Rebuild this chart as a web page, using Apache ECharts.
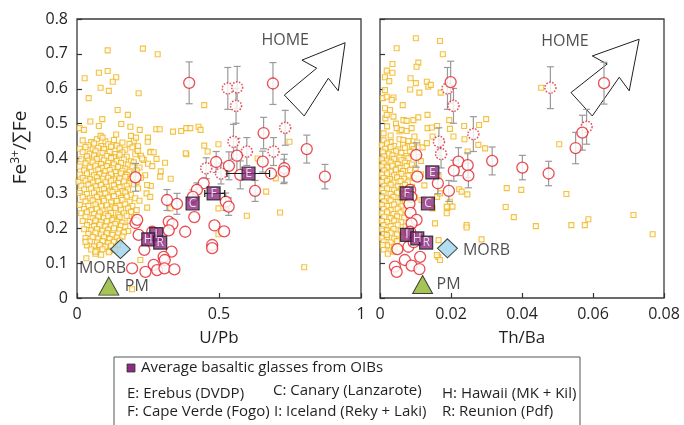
<!DOCTYPE html>
<html><head><meta charset="utf-8">
<script src="https://cdn.jsdelivr.net/npm/echarts@6/dist/echarts.min.js"></script>
<style>html,body{margin:0;padding:0;background:#fff}#c{width:684px;height:425px}</style>
</head><body><div id="c"></div>
<script>
const FONT = '"Open Sans", "Noto Sans", sans-serif';
const TXT = '#231f20';

// Tick labels
const uPbTicks = ['0', '0.5', '1'];
const thBaTicks = ['0', '0.02', '0.04', '0.06', '0.08'];
const yTicks = ['0', '0.1', '0.2', '0.3', '0.4', '0.5', '0.6', '0.7', '0.8'];

// Yellow squares: glasses, U/Pb vs Fe3+/SumFe
const glassUPb = [
[0.02,0.452],[0.05,0.447],[0.07,0.455],[0.10,0.449],[0.13,0.453],[0.16,0.446],[0.20,0.451],
[0.04,0.438],[0.06,0.443],[0.085,0.436],[0.11,0.441],[0.14,0.437],[0.185,0.442],[0.215,0.435],
[0.01,0.428],[0.03,0.433],[0.055,0.426],[0.075,0.431],[0.095,0.427],[0.12,0.434],[0.15,0.429],[0.17,0.425],[0.195,0.432],
[0.02,0.418],[0.045,0.414],[0.065,0.421],[0.09,0.416],[0.115,0.419],[0.135,0.413],[0.16,0.417],[0.205,0.412],[0.26,0.419],
[0.035,0.406],[0.06,0.409],[0.08,0.403],[0.105,0.407],[0.13,0.404],[0.15,0.411],[0.175,0.405],[0.225,0.408],
[0.015,0.398],[0.04,0.394],[0.07,0.399],[0.095,0.395],[0.12,0.401],[0.14,0.393],[0.165,0.397],[0.19,0.392],[0.235,0.396],[0.28,0.399],
[0.03,0.386],[0.055,0.389],[0.085,0.384],[0.11,0.388],[0.13,0.383],[0.155,0.387],[0.18,0.382],[0.2,0.389],[0.25,0.385],[0.31,0.388],
[0.01,0.377],[0.045,0.374],[0.065,0.379],[0.09,0.373],[0.105,0.378],[0.125,0.372],[0.145,0.376],[0.17,0.371],[0.195,0.377],[0.22,0.374],[0.265,0.378],
[0.025,0.366],[0.05,0.362],[0.075,0.368],[0.1,0.364],[0.115,0.367],[0.135,0.361],[0.16,0.365],[0.185,0.362],[0.21,0.366],[0.295,0.363],
[0.01,0.354],[0.035,0.357],[0.06,0.352],[0.08,0.356],[0.095,0.351],[0.12,0.355],[0.14,0.35],[0.155,0.357],[0.175,0.353],[0.2,0.356],[0.24,0.352],
[0.02,0.344],[0.045,0.341],[0.07,0.346],[0.09,0.342],[0.11,0.345],[0.13,0.34],[0.15,0.343],[0.17,0.347],[0.19,0.341],[0.225,0.345],[0.33,0.342],
[0.005,0.333],[0.03,0.336],[0.055,0.331],[0.075,0.335],[0.1,0.332],[0.12,0.336],[0.145,0.33],[0.165,0.334],[0.185,0.329],[0.21,0.333],
[0.015,0.322],[0.04,0.325],[0.065,0.32],[0.085,0.324],[0.105,0.319],[0.13,0.323],[0.15,0.318],[0.175,0.322],[0.2,0.326],[0.26,0.321],
[0.025,0.311],[0.05,0.314],[0.07,0.309],[0.095,0.313],[0.115,0.308],[0.135,0.312],[0.16,0.307],[0.18,0.311],[0.215,0.314],
[0.01,0.301],[0.035,0.298],[0.06,0.302],[0.08,0.297],[0.1,0.3],[0.125,0.304],[0.145,0.299],[0.17,0.303],[0.19,0.296],[0.245,0.3],
[0.02,0.289],[0.045,0.286],[0.07,0.29],[0.09,0.285],[0.11,0.288],[0.13,0.292],[0.155,0.287],[0.175,0.291],[0.205,0.286],
[0.03,0.277],[0.055,0.28],[0.075,0.275],[0.095,0.279],[0.12,0.274],[0.14,0.278],[0.16,0.281],[0.185,0.276],[0.22,0.279],
[0.01,0.267],[0.04,0.264],[0.065,0.268],[0.085,0.263],[0.105,0.266],[0.125,0.262],[0.15,0.265],[0.17,0.269],[0.195,0.264],
[0.025,0.255],[0.05,0.252],[0.07,0.256],[0.09,0.251],[0.115,0.254],[0.135,0.258],[0.155,0.253],[0.18,0.257],[0.21,0.252],
[0.015,0.243],[0.035,0.246],[0.06,0.241],[0.08,0.245],[0.1,0.24],[0.12,0.244],[0.145,0.239],[0.165,0.243],[0.19,0.247],
[0.03,0.233],[0.055,0.229],[0.075,0.234],[0.095,0.23],[0.11,0.235],[0.13,0.228],[0.15,0.232],[0.175,0.236],[0.2,0.231],
[0.02,0.221],[0.045,0.218],[0.065,0.222],[0.085,0.217],[0.105,0.22],[0.125,0.224],[0.14,0.219],[0.16,0.216],[0.185,0.221],
[0.035,0.209],[0.06,0.206],[0.08,0.21],[0.1,0.205],[0.12,0.208],[0.135,0.212],[0.155,0.207],[0.17,0.204],
[0.025,0.197],[0.05,0.194],[0.07,0.198],[0.09,0.193],[0.11,0.196],[0.13,0.2],[0.15,0.195],[0.18,0.192],
[0.04,0.184],[0.065,0.187],[0.085,0.182],[0.105,0.186],[0.125,0.181],[0.145,0.185],[0.165,0.188],
[0.03,0.172],[0.055,0.175],[0.075,0.17],[0.095,0.174],[0.115,0.169],[0.14,0.173],[0.16,0.176],
[0.045,0.162],[0.07,0.159],[0.09,0.163],[0.11,0.158],[0.13,0.161],[0.15,0.164],
[0.035,0.151],[0.06,0.148],[0.08,0.152],[0.1,0.147],[0.12,0.15],[0.145,0.153],
[0.05,0.139],[0.07,0.136],[0.09,0.14],[0.115,0.135],[0.135,0.138],
[0.065,0.127],[0.085,0.124],
[0.108,0.71],[0.232,0.715],[0.284,0.699],[0.027,0.63],[0.077,0.646],[0.108,0.651],[0.138,0.633],[0.126,0.62],
[0.083,0.603],[0.112,0.594],[0.041,0.573],[0.217,0.587],[0.448,0.553],[0.143,0.539],[0.179,0.525],[0.089,0.513],
[0.047,0.506],[0.009,0.487],[0.024,0.482],[0.077,0.493],[0.156,0.499],[0.188,0.491],[0.221,0.482],[0.279,0.484],
[0.291,0.484],[0.338,0.477],[0.367,0.479],[0.385,0.487],[0.399,0.487],[0.428,0.491],[0.435,0.482],[0.498,0.441],
[0.448,0.437],[0.385,0.412],[0.748,0.448],[0.636,0.40],[0.70,0.343],[0.666,0.305],[0.715,0.245],[0.598,0.236],
[0.80,0.088],[0.498,0.257],[0.498,0.183],[0.329,0.257],[0.083,0.465],[0.09,0.46],[0.138,0.469],[0.19,0.465],
[0.208,0.46],[0.25,0.46],[0.249,0.448],[0.214,0.422],[0.258,0.418],[0.27,0.418],[0.383,0.415],[0.46,0.42],
[0.03,0.161],[0.065,0.133],[0.223,0.109],[0.194,0.025],[0.112,0.131],[0.033,0.114],
[0.258,0.29],[0.247,0.259],[0.293,0.348],[0.229,0.40],[0.247,0.324]
];

// Yellow squares: glasses, Th/Ba vs Fe3+/SumFe
const glassThBa = [
[0.001,0.452],[0.003,0.447],[0.0055,0.455],[0.008,0.449],[0.0105,0.446],
[0.0005,0.438],[0.002,0.443],[0.004,0.436],[0.0065,0.441],[0.009,0.437],
[0.0015,0.428],[0.003,0.433],[0.005,0.426],[0.007,0.431],[0.0095,0.427],[0.012,0.432],
[0.0008,0.418],[0.0025,0.414],[0.0045,0.421],[0.006,0.416],[0.0085,0.419],
[0.0012,0.406],[0.0035,0.409],[0.0055,0.403],[0.0075,0.407],[0.011,0.404],
[0.0005,0.398],[0.002,0.394],[0.004,0.399],[0.006,0.395],[0.008,0.401],[0.0115,0.393],
[0.001,0.386],[0.003,0.389],[0.005,0.384],[0.007,0.388],[0.009,0.383],
[0.0005,0.377],[0.002,0.374],[0.0035,0.379],[0.0055,0.373],[0.0075,0.378],[0.01,0.372],
[0.0012,0.366],[0.003,0.362],[0.0045,0.368],[0.0065,0.364],[0.0085,0.367],
[0.0005,0.354],[0.002,0.357],[0.004,0.352],[0.006,0.356],[0.008,0.351],[0.0115,0.355],
[0.001,0.344],[0.0028,0.341],[0.0048,0.346],[0.0068,0.342],[0.0095,0.345],
[0.0005,0.333],[0.002,0.336],[0.0038,0.331],[0.0058,0.335],[0.0078,0.332],
[0.0012,0.322],[0.003,0.325],[0.005,0.32],[0.007,0.324],[0.009,0.319],[0.0125,0.323],
[0.0005,0.311],[0.002,0.314],[0.004,0.309],[0.006,0.313],[0.0082,0.308],
[0.001,0.301],[0.003,0.298],[0.0048,0.302],[0.0068,0.297],
[0.0005,0.289],[0.002,0.286],[0.0038,0.29],[0.0058,0.285],[0.0098,0.288],
[0.0012,0.277],[0.003,0.28],[0.005,0.275],[0.007,0.279],
[0.0005,0.267],[0.002,0.264],[0.004,0.268],[0.006,0.263],[0.0085,0.266],
[0.001,0.255],[0.003,0.252],[0.005,0.256],[0.0068,0.251],
[0.0005,0.243],[0.002,0.246],[0.0038,0.241],[0.0058,0.245],[0.0078,0.24],
[0.0012,0.233],[0.003,0.229],[0.0048,0.234],[0.0068,0.23],
[0.0005,0.221],[0.002,0.218],[0.004,0.222],[0.006,0.217],
[0.001,0.209],[0.003,0.206],[0.005,0.21],[0.0072,0.205],
[0.0005,0.197],[0.002,0.194],[0.0038,0.198],[0.0058,0.193],
[0.0012,0.184],[0.003,0.187],[0.0048,0.182],
[0.0005,0.172],[0.002,0.175],[0.004,0.17],[0.0062,0.174],
[0.001,0.162],[0.003,0.159],[0.0048,0.163],
[0.002,0.151],[0.004,0.147],[0.001,0.139],[0.003,0.136],[0.0055,0.141],[0.0022,0.127],
[0.001,0.472],[0.003,0.466],[0.0055,0.478],[0.002,0.492],[0.0045,0.5],[0.0015,0.515],
[0.0101,0.745],[0.0169,0.737],[0.0047,0.716],[0.0177,0.699],[0.0035,0.671],[0.0108,0.675],[0.0103,0.663],[0.0019,0.652],
[0.0035,0.646],[0.0014,0.633],[0.0026,0.622],[0.0086,0.63],[0.0101,0.616],[0.0132,0.62],[0.0136,0.606],[0.0143,0.611],
[0.0085,0.598],[0.0111,0.589],[0.0171,0.589],[0.0014,0.596],[0.0008,0.573],[0.0019,0.577],[0.0038,0.575],[0.0033,0.568],
[0.0064,0.553],[0.0014,0.544],[0.0028,0.539],[0.0038,0.52],[0.0019,0.525],[0.0066,0.51],[0.0075,0.508],[0.0094,0.51],
[0.0108,0.518],[0.0134,0.525],[0.0195,0.51],[0.0237,0.493],[0.0279,0.496],[0.0299,0.513],[0.0134,0.487],[0.0146,0.489],
[0.0161,0.493],[0.0197,0.485],[0.0207,0.463],[0.0148,0.463],[0.0047,0.487],[0.0061,0.482],[0.0075,0.479],[0.0089,0.487],
[0.0097,0.463],[0.0066,0.453],[0.008,0.45],[0.0132,0.444],[0.0238,0.455],[0.0277,0.439],[0.0296,0.429],[0.0247,0.42],
[0.0505,0.441],[0.0454,0.603],[0.0357,0.315],[0.0398,0.31],[0.0525,0.298],[0.0354,0.261],[0.0377,0.232],[0.0439,0.206],
[0.0244,0.209],[0.0244,0.202],[0.0286,0.168],[0.0539,0.209],[0.0577,0.209],[0.0587,0.226],[0.0714,0.238],[0.0768,0.183],
[0.0223,0.312],[0.0246,0.297],[0.0197,0.276],[0.019,0.259],[0.0188,0.243],[0.0161,0.29],[0.0169,0.30],[0.0148,0.257],
[0.0165,0.166],[0.0164,0.118],[0.0165,0.348],[0.0155,0.214],[0.016,0.123],[0.0169,0.109],[0.0117,0.281],[0.0188,0.262],
[0.0204,0.262],[0.023,0.305],[0.0008,0.152],[0.0019,0.181],[0.0038,0.133]
];

// Red circles (melt inclusions): [x, Fe3+/SumFe, error]
const meltUPb = [
[0.395,0.617,0.06],[0.69,0.615,0.06],[0.657,0.473,0.045],[0.809,0.427,0.04],[0.873,0.348,0.035],
[0.73,0.372,0.04],[0.728,0.363,0.035],[0.683,0.357,0],[0.654,0.391,0.03],[0.627,0.307,0.03],
[0.563,0.408,0.05],[0.575,0.353,0.04],[0.535,0.379,0.04],[0.49,0.39,0.03],[0.446,0.329,0],
[0.422,0.31,0.02],[0.408,0.29,0.02],[0.413,0.232,0],[0.524,0.276,0.025],[0.534,0.262,0.025],
[0.484,0.208,0],[0.518,0.191,0],[0.476,0.152,0],[0.476,0.143,0],[0.352,0.27,0.03],[0.317,0.281,0.03],
[0.381,0.19,0],[0.323,0.219,0],[0.336,0.212,0],[0.323,0.194,0],[0.333,0.133,0],[0.305,0.118,0],[0.309,0.109,0],
[0.27,0.095,0],[0.241,0.075,0],[0.282,0.08,0],[0.308,0.085,0],[0.343,0.082,0],[0.194,0.085,0],[0.237,0.138,0],
[0.217,0.181,0],[0.206,0.215,0],[0.212,0.224,0],[0.206,0.346,0.04],[0.265,0.19,0]
];
const meltUPbDotted = [
[0.531,0.601,0.06],[0.564,0.604,0.06],[0.56,0.551,0.05],[0.551,0.448,0.05],[0.598,0.42,0.04],
[0.733,0.488,0.05],[0.692,0.42,0.04],[0.455,0.372,0.03],[0.507,0.357,0.03]
];
const meltThBa = [
[0.0199,0.619,0.06],[0.0631,0.616,0.06],[0.057,0.474,0.05],[0.0551,0.43,0.045],[0.0316,0.393,0.04],
[0.0401,0.374,0.035],[0.0475,0.357,0.035],[0.0221,0.391,0.04],[0.0247,0.381,0.035],[0.0249,0.351,0.035],
[0.0208,0.365,0.03],[0.0102,0.41,0.035],[0.0105,0.348,0],[0.0163,0.329,0.03],[0.0194,0.307,0.03],
[0.0085,0.31,0],[0.0088,0.29,0],[0.0083,0.27,0],[0.0086,0.244,0],[0.0103,0.224,0],[0.0089,0.214,0],
[0.0085,0.19,0],[0.008,0.147,0],[0.0049,0.14,0],[0.007,0.109,0],[0.0113,0.118,0],[0.0089,0.093,0],
[0.0111,0.083,0],[0.0042,0.09,0],[0.0047,0.075,0],[0.0095,0.16,0]
];
const meltThBaDotted = [
[0.019,0.601,0.06],[0.0207,0.551,0.05],[0.0263,0.47,0.05],[0.0166,0.448,0.04],[0.0172,0.413,0.04],
[0.048,0.603,0.06],[0.0582,0.491,0.05]
];

// Average basaltic glasses from OIBs
const oibNames = ['E', 'F', 'C', 'I', 'H', 'R'];
const oibUPb = [[0.604,0.357],[0.481,0.30],[0.407,0.271],[0.279,0.183],[0.251,0.168],[0.293,0.159]];
const oibUPbRange = [[0.528,0.678],[0.45,0.52]]; // E, F horizontal error
const oibThBa = [[0.01475,0.36],[0.0075,0.30],[0.0135,0.271],[0.0076,0.181],[0.0105,0.171],[0.013,0.159]];

// Reference reservoirs
const morbUPb = [0.153, 0.14];
const morbThBa = [0.019, 0.1425];
const pmUPb = [0.112, 0.034];
const pmThBa = [0.012, 0.0387];

// HOME arrows (outline vertices, data units) and label positions
const arrowUPb = [[0.944,0.732],[0.792,0.682],[0.844,0.659],[0.730,0.582],[0.80,0.522],[0.885,0.63],[0.92,0.594]];
const arrowThBa = [[0.0730,0.742],[0.0598,0.694],[0.0640,0.671],[0.0538,0.589],[0.0598,0.522],[0.0674,0.633],[0.0702,0.594]];
const homeUPb = [0.733, 0.738];
const homeThBa = [0.0521, 0.735];

// Legend text lines
const legendTitle = 'Average basaltic glasses from OIBs';
const legendRow1 = ['E: Erebus (DVDP)', 'C: Canary (Lanzarote)', 'H: Hawaii (MK + Kil)'];
const legendRow2 = ['F: Cape Verde (Fogo)', 'I: Iceland (Reky + Laki)', 'R: Reunion (Pdf)'];

const chart = echarts.init(document.getElementById('c'), null, {renderer: 'canvas'});

const axisLabelStyle = {color: TXT, fontSize: 16, fontFamily: FONT};

function yAx(gi, showLabels) {
  return {
    type: 'value', gridIndex: gi, min: 0, max: 0.8, interval: 0.1,
    axisLine: {show: false}, splitLine: {show: false},
    axisTick: {show: true, inside: true, length: 5, lineStyle: {color: '#333', width: 1.2}},
    axisLabel: Object.assign({show: showLabels, margin: 9,
      formatter: (v) => yTicks[Math.round(v * 10)]}, axisLabelStyle),
    name: showLabels ? 'Fe{sup|3+}/∑Fe' : '',
    nameLocation: 'middle', nameGap: 45,
    nameTextStyle: {color: TXT, fontSize: 19, fontFamily: FONT, padding: [0, 0, 0, 22],
      rich: {sup: {fontSize: 12, color: TXT, fontFamily: FONT, verticalAlign: 'top', padding: [0, 0, 10, 0]}}}
  };
}

function errSeries(data, xi, color) {
  return {
    type: 'custom', xAxisIndex: xi, yAxisIndex: xi, z: 3, silent: true,
    data: data.filter(d => d[2] > 0), encode: {x: 0, y: 1},
    renderItem: (p, api) => {
      const x = api.value(0), y = api.value(1), e = api.value(2);
      const t = api.coord([x, y + e]), b = api.coord([x, y - e]);
      const cw = 3.5, st = {stroke: color, lineWidth: 1.2};
      return {type: 'group', children: [
        {type: 'line', shape: {x1: t[0], y1: t[1], x2: b[0], y2: b[1]}, style: st},
        {type: 'line', shape: {x1: t[0] - cw, y1: t[1], x2: t[0] + cw, y2: t[1]}, style: st},
        {type: 'line', shape: {x1: b[0] - cw, y1: b[1], x2: b[0] + cw, y2: b[1]}, style: st}
      ]};
    }
  };
}

function glassSeries(data, i) {
  return {type: 'scatter', xAxisIndex: i, yAxisIndex: i, data: data, symbol: 'rect', symbolSize: 5, z: 2, silent: true,
    itemStyle: {color: '#fffbe8', borderColor: '#F0B21A', borderWidth: 1.1}};
}
function meltSeries(data, i, dotted) {
  return {type: 'scatter', xAxisIndex: i, yAxisIndex: i, data: data.map(d => [d[0], d[1]]), symbol: 'circle', symbolSize: 11, z: 4, silent: true,
    itemStyle: {color: '#ffffff', borderColor: '#E3222A', borderWidth: dotted ? 1.5 : 1.3, borderType: dotted ? 'dotted' : 'solid'}};
}
function oibSeries(data, i) {
  return {type: 'scatter', xAxisIndex: i, yAxisIndex: i, z: 7, silent: true,
    data: data.map((d, k) => ({name: oibNames[k], value: d})),
    symbol: 'rect', symbolSize: 13,
    itemStyle: {color: '#8B2C80', borderColor: '#1a1a1a', borderWidth: 1.2},
    label: {show: true, position: 'inside', formatter: '{b}', color: '#fff', fontSize: 12, fontFamily: FONT}};
}
function pointLabel(pt, i, sym, size, color, text, offset) {
  return {type: 'scatter', xAxisIndex: i, yAxisIndex: i, z: 8, silent: true,
    data: [pt], symbol: sym, symbolSize: size,
    itemStyle: {color: color, borderColor: '#1a1a1a', borderWidth: 1},
    label: {show: true, position: 'inside', offset: offset, formatter: text, color: TXT, fontSize: 16, fontFamily: FONT}};
}
function homeLabel(pt, i) {
  return {type: 'scatter', xAxisIndex: i, yAxisIndex: i, z: 8, silent: true,
    data: [pt], symbolSize: 1, itemStyle: {color: 'rgba(0,0,0,0)'},
    label: {show: true, position: 'inside', formatter: 'HOME', color: TXT, fontSize: 16, fontFamily: FONT}};
}
function arrowSeries(pts, i) {
  return {type: 'custom', xAxisIndex: i, yAxisIndex: i, z: 3, silent: true, data: [[pts[0][0], pts[0][1]]],
    renderItem: (p, api) => ({type: 'polygon', shape: {points: pts.map(q => api.coord(q))},
      style: {fill: '#fff', stroke: '#231f20', lineWidth: 1}})};
}
function legendText(text, x, y) {
  return {type: 'text', x: x, y: y, style: {text: text, fill: TXT, font: '15px ' + FONT, verticalAlign: 'middle'}};
}

const option = {
  backgroundColor: '#fff',
  animation: false,
  textStyle: {fontFamily: FONT},
  grid: [
    {left: 77, top: 19, width: 284, height: 279, show: true, borderColor: '#3a3a3a', borderWidth: 1.3, backgroundColor: 'transparent'},
    {left: 380, top: 19, width: 284, height: 279, show: true, borderColor: '#3a3a3a', borderWidth: 1.3, backgroundColor: 'transparent'}
  ],
  xAxis: [
    {type: 'value', gridIndex: 0, min: 0, max: 1, interval: 0.5,
     axisLine: {show: false}, splitLine: {show: false},
     axisTick: {show: true, inside: true, length: 5, lineStyle: {color: '#333', width: 1.2}},
     axisLabel: Object.assign({margin: 8, formatter: (v) => uPbTicks[Math.round(v * 2)]}, axisLabelStyle),
     name: 'U/Pb', nameLocation: 'middle', nameGap: 32,
     nameTextStyle: {color: TXT, fontSize: 17, fontFamily: FONT}},
    {type: 'value', gridIndex: 1, min: 0, max: 0.08, interval: 0.02,
     axisLine: {show: false}, splitLine: {show: false},
     axisTick: {show: true, inside: true, length: 5, lineStyle: {color: '#333', width: 1.2}},
     axisLabel: Object.assign({margin: 8, formatter: (v) => thBaTicks[Math.round(v * 50)]}, axisLabelStyle),
     name: 'Th/Ba', nameLocation: 'middle', nameGap: 32,
     nameTextStyle: {color: TXT, fontSize: 17, fontFamily: FONT}}
  ],
  yAxis: [yAx(0, true), yAx(1, false)],
  series: [
    glassSeries(glassUPb, 0),
    glassSeries(glassThBa, 1),
    arrowSeries(arrowUPb, 0),
    arrowSeries(arrowThBa, 1),
    errSeries(meltUPb, 0, '#9a9a9a'),
    errSeries(meltUPbDotted, 0, '#9a9a9a'),
    errSeries(meltThBa, 1, '#9a9a9a'),
    errSeries(meltThBaDotted, 1, '#9a9a9a'),
    meltSeries(meltUPbDotted, 0, true),
    meltSeries(meltUPb, 0, false),
    meltSeries(meltThBaDotted, 1, true),
    meltSeries(meltThBa, 1, false),
    {type: 'custom', xAxisIndex: 0, yAxisIndex: 0, z: 6, silent: true,
     data: oibUPbRange.map((r, k) => [oibUPb[k][0], oibUPb[k][1], r[0], r[1]]),
     renderItem: (p, api) => {
       const y = api.value(1);
       const a = api.coord([api.value(2), y]), b = api.coord([api.value(3), y]);
       const st = {stroke: '#1a1a1a', lineWidth: 1.2};
       return {type: 'group', children: [
         {type: 'line', shape: {x1: a[0], y1: a[1], x2: b[0], y2: b[1]}, style: st},
         {type: 'line', shape: {x1: a[0], y1: a[1] - 3.5, x2: a[0], y2: a[1] + 3.5}, style: st},
         {type: 'line', shape: {x1: b[0], y1: b[1] - 3.5, x2: b[0], y2: b[1] + 3.5}, style: st}
       ]};
     }},
    oibSeries(oibUPb, 0),
    oibSeries(oibThBa, 1),
    pointLabel(morbUPb, 0, 'diamond', [20, 19], '#9ED3EE', 'MORB', [-18, 19]),
    pointLabel(morbThBa, 1, 'diamond', [20, 19], '#9ED3EE', 'MORB', [39, 2]),
    pointLabel(pmUPb, 0, 'triangle', [20, 18], '#8DB72A', 'PM', [28, 0]),
    pointLabel(pmThBa, 1, 'triangle', [20, 18], '#8DB72A', 'PM', [26, 0]),
    homeLabel(homeUPb, 0),
    homeLabel(homeThBa, 1)
  ],
  graphic: [
    {type: 'rect', shape: {x: 114, y: 357, width: 466, height: 90}, style: {fill: 'none', stroke: '#555', lineWidth: 1}},
    {type: 'rect', shape: {x: 127, y: 364, width: 8, height: 8}, style: {fill: '#8B2C80', stroke: '#333', lineWidth: 0.8}},
    legendText(legendTitle, 141, 368),
    legendText(legendRow1[0], 127, 394),
    legendText(legendRow1[1], 273, 391),
    legendText(legendRow1[2], 442, 394),
    legendText(legendRow2[0], 127, 412),
    legendText(legendRow2[1], 274, 412),
    legendText(legendRow2[2], 442, 412)
  ]
};
chart.setOption(option);
</script></body></html>
